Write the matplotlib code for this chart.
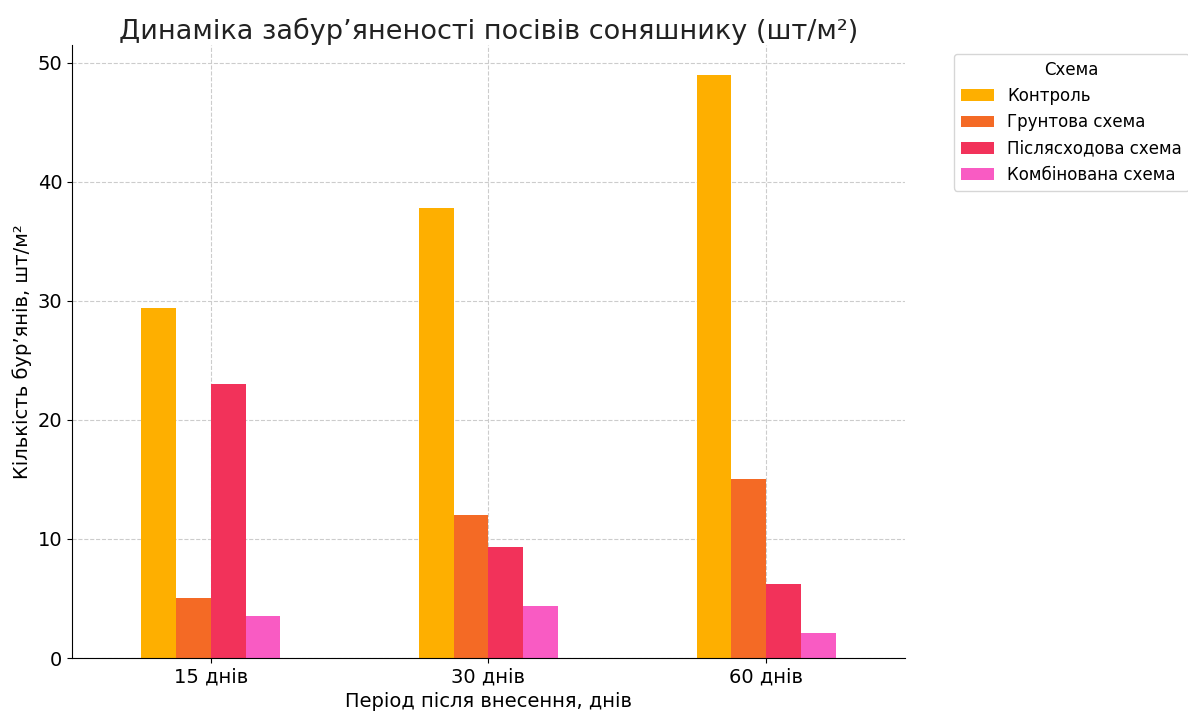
import matplotlib
matplotlib.use("Agg")
import matplotlib.pyplot as plt
import numpy as np

periods = ["15 днів", "30 днів", "60 днів"]
series_names = ["Контроль", "Грунтова схема", "Післясходова схема", "Комбінована схема"]
control = [29.4, 37.8, 49.0]
soil = [5.0, 12.0, 15.0]
post = [23.0, 9.3, 6.2]
combined = [3.5, 4.4, 2.1]
colors = ["#FEAF00", "#F46A25", "#F2325A", "#F95BC3"]

plt.rcParams['font.family'] = ['DejaVu Sans']
fig = plt.figure(figsize=(11.88, 7.11), dpi=100)
ax = fig.add_axes([72/1188, 1-658/711, (905-72)/1188, (658-45)/711])

data = [control, soil, post, combined]
x = np.arange(len(periods))
w = 0.125
for i, (vals, name, c) in enumerate(zip(data, series_names, colors)):
    ax.bar(x + (i - 1.5) * w, vals, width=w, color=c, label=name, zorder=2)

ax.set_xlim(-0.5, 2.5)
ax.set_ylim(0, 51.5)
ax.set_xticks(x)
ax.set_xticklabels(periods, fontsize=14)
ax.tick_params(axis='y', labelsize=14)
ax.set_yticks([0, 10, 20, 30, 40, 50])
ax.grid(True, linestyle='--', color='#cccccc', linewidth=0.8, zorder=0)
ax.set_axisbelow(True)
ax.spines['top'].set_visible(False)
ax.spines['right'].set_visible(False)
ax.set_title("Динаміка забур’яненості посівів соняшнику (шт/м²)", fontsize=19.5, pad=4, color='#222222')
ax.set_xlabel("Період після внесення, днів", fontsize=14)
ax.set_ylabel("Кількість бур’янів, шт/м²", fontsize=14)
leg = ax.legend(title="Схема", bbox_to_anchor=(1.049, 0.999), loc='upper left', fontsize=12, title_fontsize=12)

fig.savefig("out.png", dpi=100)
